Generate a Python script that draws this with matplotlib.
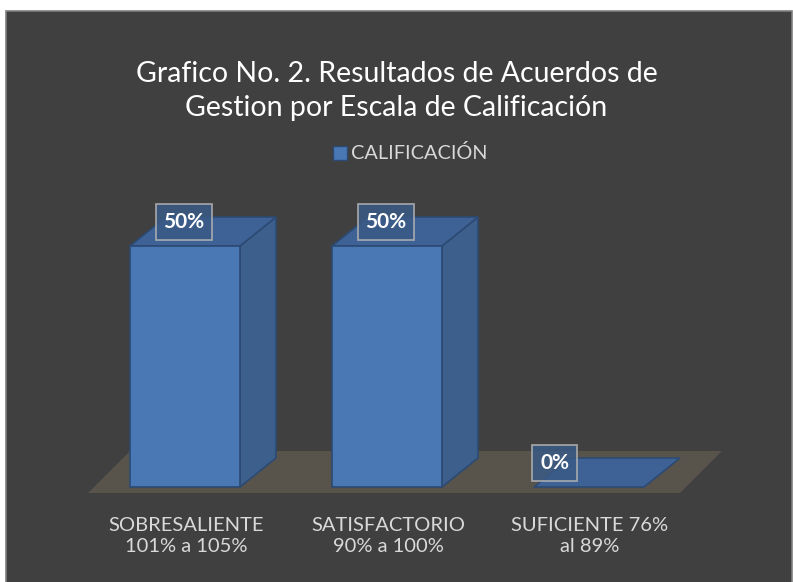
import matplotlib
matplotlib.use("Agg")
import matplotlib.pyplot as plt
from matplotlib.patches import Polygon, Rectangle

plt.rcParams["font.family"] = ["Lato", "DejaVu Sans"]

# ---- data --------------------------------------------------------------------
categories = ["SOBRESALIENTE\n101% a 105%", "SATISFACTORIO\n90% a 100%",
              "SUFICIENTE 76%\nal 89%"]
values = [50, 50, 0]
value_labels = ["50%", "50%", "0%"]
series_name = "CALIFICACIÓN"
title = "Grafico No. 2. Resultados de Acuerdos de\nGestion por Escala de Calificación"

# ---- style -------------------------------------------------------------------
BG = "#404040"
TXT = "#d9d9d9"
C_FRONT = "#4a78b4"
C_SIDE = "#3d5f8c"
C_TOP = "#3e6296"
C_EDGE = "#2c4a73"
C_FLOOR = "#58544c"

W, H = 793, 582
fig = plt.figure(figsize=(W / 100, H / 100), dpi=100)
fig.patch.set_facecolor("white")

# chart area frame (pixel coords)
bg = fig.add_axes([0, 0, 1, 1])
bg.set_xlim(0, W)
bg.set_ylim(H, 0)
bg.axis("off")
bg.add_patch(Rectangle((6, 11), W - 7, H - 10, fc=BG, ec="#7f7f7f", lw=1.2))

bg.text(W / 2, 91, title, ha="center", va="center", color="white",
        fontsize=20.5, linespacing=1.42)

# legend
bg.add_patch(Rectangle((333, 146), 14, 14, fc=C_FRONT, ec=C_EDGE, lw=1))
bg.text(351, 153, series_name, ha="left", va="center", color=TXT, fontsize=14.3)

# ---- bars --------------------------------------------------------------------
# axes: x in category units (202 px each), y in percent (4.82 px each)
px_x = 202.0
px_y = 4.82
left_px, right_px = 84, 791
bot_px, top_px = 500, 190
ax = fig.add_axes([left_px / W, (H - bot_px) / H,
                   (right_px - left_px) / W, (bot_px - top_px) / H])
ax.set_xlim(-0.5, -0.5 + (right_px - left_px) / px_x)
ax.set_ylim(-(bot_px - 487) / px_y, (487 - top_px) / px_y)
ax.axis("off")
ax.patch.set_alpha(0)

bw = 110 / px_x / 2
dx, dy = 36 / px_x, 29 / px_y

# floor
fx0, fx1 = -0.48, 2.45
fy0 = -6 / px_y
fdx, fdy = 42 / px_x, 42 / px_y
ax.add_patch(Polygon([(fx0, fy0), (fx1, fy0), (fx1 + fdx, fy0 + fdy),
                      (fx0 + fdx, fy0 + fdy)], closed=True, fc=C_FLOOR,
                     ec="none", zorder=1))

for i, v in enumerate(values):
    x0, x1 = i - bw, i + bw
    if v > 0:
        # side
        ax.add_patch(Polygon([(x1, 0), (x1 + dx, dy), (x1 + dx, v + dy), (x1, v)],
                             closed=True, fc=C_SIDE, ec=C_EDGE, lw=1.2, zorder=2))
        # top
        ax.add_patch(Polygon([(x0, v), (x1, v), (x1 + dx, v + dy), (x0 + dx, v + dy)],
                             closed=True, fc=C_TOP, ec=C_EDGE, lw=1.2, zorder=2))
        # front
        ax.add_patch(Rectangle((x0, 0), x1 - x0, v, fc=C_FRONT, ec=C_EDGE,
                               lw=1.2, zorder=3))
        lx = i - 0.005
    else:
        ax.add_patch(Polygon([(x0, 0), (x1, 0), (x1 + dx, dy), (x0 + dx, dy)],
                             closed=True, fc=C_TOP, ec=C_EDGE, lw=1.2, zorder=2))
        lx = i - 0.17
    ax.text(lx, v + 5, value_labels[i], ha="center", va="center", color="white",
            fontsize=15, fontweight="bold", zorder=5,
            bbox=dict(boxstyle="square,pad=0.38", fc="#3a5a85", ec="#b0b0b0",
                      lw=1.3, alpha=0.85))

# category labels
for i, lab in enumerate(categories):
    x_px = left_px + (i + 0.5) * px_x + 1
    bg.text(x_px, 536, lab, ha="center", va="center", color=TXT,
            fontsize=14.5, linespacing=1.25)

fig.savefig("out.png", dpi=100, facecolor=fig.get_facecolor())
